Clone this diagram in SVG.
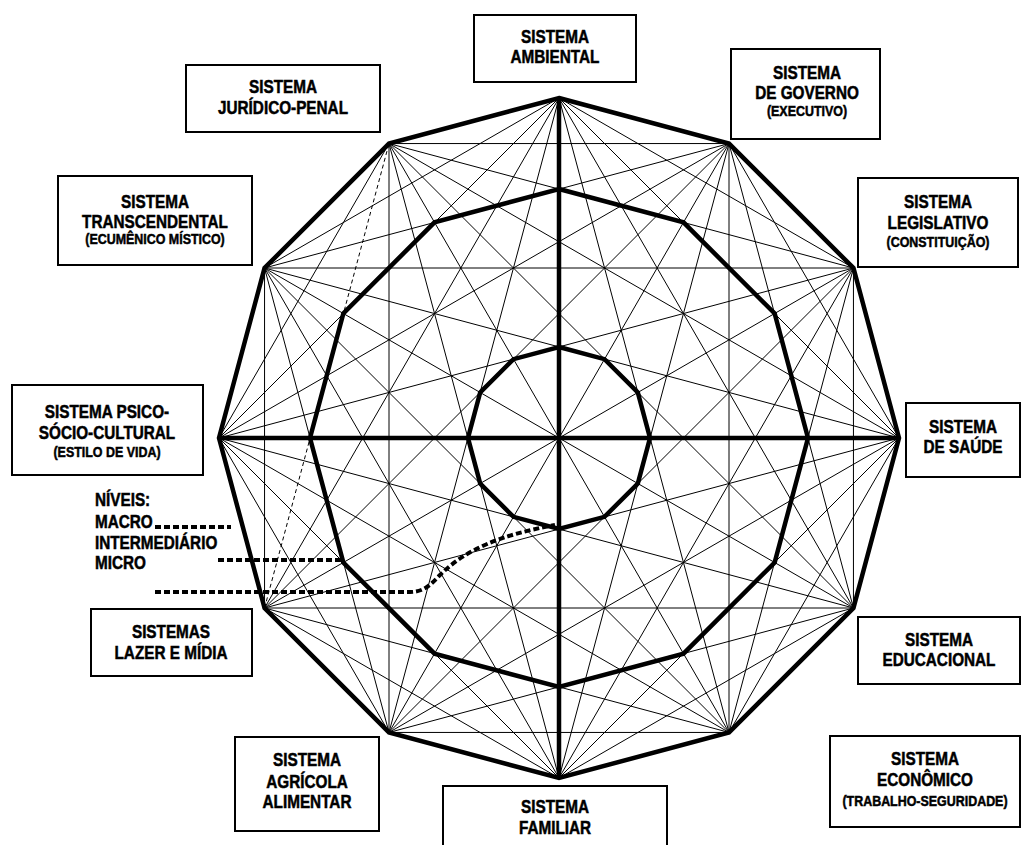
<svg xmlns="http://www.w3.org/2000/svg" width="1021" height="845" viewBox="0 0 1021 845">
<style>
.t{font-family:'Liberation Sans',Arial,sans-serif;font-weight:bold;font-size:18px;text-anchor:middle;fill:#000;stroke:#000;stroke-width:0.5}
.s{font-size:15px}
.l{text-anchor:start}
.box{fill:#fff;stroke:#000;stroke-width:2}
.thin{stroke:#000;stroke-width:1;fill:none}
.thick{stroke:#000;stroke-width:4.5;fill:none;stroke-linejoin:miter}
.dot{stroke:#000;stroke-width:4;stroke-dasharray:6 3;fill:none}
</style>
<rect width="1021" height="845" fill="#fff"/>
<g id="connectors">
<path class="thin" d="M559,98L853.45,268M729,143.55L899,438M853.45,268L853.45,608M899,438L729,732.45M853.45,608L559,778M729,732.45L389,732.45M559,778L264.55,608M389,732.45L219,438M264.55,608L264.55,268M219,438L389,143.55M264.55,268L559,98M389,143.55L729,143.55
M559,98L899,438M729,143.55L853.45,608M853.45,268L729,732.45M899,438L559,778M853.45,608L389,732.45M729,732.45L264.55,608M559,778L219,438M389,732.45L264.55,268M219,438L559,98M264.55,268L729,143.55M389,143.55L853.45,268
M559,98L853.45,608M729,143.55L729,732.45M853.45,268L559,778M899,438L389,732.45M853.45,608L264.55,608M729,732.45L219,438M559,778L264.55,268M389,732.45L389,143.55M264.55,608L559,98M219,438L729,143.55M264.55,268L853.45,268M389,143.55L899,438
M559,98L729,732.45M729,143.55L559,778M853.45,268L389,732.45M899,438L264.55,608M853.45,608L219,438M729,732.45L264.55,268M559,778L389,143.55M389,732.45L559,98M264.55,608L729,143.55M219,438L853.45,268M264.55,268L899,438M389,143.55L853.45,608
M729,143.55L389,732.45M853.45,268L264.55,608M853.45,608L264.55,268M729,732.45L389,143.55"/>
<path class="thin" stroke-dasharray="4 3" d="M264.55,608L389,143.55"/>
<polygon class="thick" points="559,98 729,143.55 853.45,268 899,438 853.45,608 729,732.45 559,778 389,732.45 264.55,608 219,438 264.55,268 389,143.55"/>
<polygon class="thick" points="559,189 683.5,222.36 774.64,313.5 808,438 774.64,562.5 683.5,653.64 559,687 434.5,653.64 343.36,562.5 310,438 343.36,313.5 434.5,222.36"/>
<polygon class="thick" points="559,347 604.5,359.19 637.81,392.5 650,438 637.81,483.5 604.5,516.81 559,529 513.5,516.81 480.19,483.5 468,438 480.19,392.5 513.5,359.19"/>
<path class="thick" d="M559,98L559,778M219,438L899,438"/>
<path class="dot" d="M155,527L231,527M218,560L343,560M155,592L410,592C425,592 432,583 440,575C465,550 500,535 555,525"/>
</g>
<g id="niveis">
<text class="t l" transform="translate(95,506.4) scale(0.85,1)">NÍVEIS:</text>
<text class="t l" transform="translate(95,528.4) scale(0.85,1)">MACRO</text>
<text class="t l" transform="translate(95,549.4) scale(0.85,1)">INTERMEDIÁRIO</text>
<text class="t l" transform="translate(95,569.4) scale(0.85,1)">MICRO</text>
</g>
<g id="ambiental"><rect class="box" x="474" y="15" width="162" height="67"/><text class="t" transform="translate(555,43.4) scale(0.85,1)">SISTEMA</text><text class="t" transform="translate(555,63.4) scale(0.85,1)">AMBIENTAL</text></g>
<g id="juridico"><rect class="box" x="186" y="65" width="194" height="67"/><text class="t" transform="translate(283,93.4) scale(0.85,1)">SISTEMA</text><text class="t" transform="translate(283,114.4) scale(0.85,1)">JURÍDICO-PENAL</text></g>
<g id="governo"><rect class="box" x="731" y="49" width="149" height="90"/><text class="t" transform="translate(807,79.4) scale(0.85,1)">SISTEMA</text><text class="t" transform="translate(807,99.4) scale(0.85,1)">DE GOVERNO</text><text class="t s" transform="translate(807,116.4) scale(0.83,1)">(EXECUTIVO)</text></g>
<g id="transcendental"><rect class="box" x="58" y="176" width="194" height="89"/><text class="t" transform="translate(155,208.4) scale(0.85,1)">SISTEMA</text><text class="t" transform="translate(155,228.4) scale(0.85,1)">TRANSCENDENTAL</text><text class="t s" transform="translate(155,244.4) scale(0.83,1)">(ECUMÊNICO MÍSTICO)</text></g>
<g id="legislativo"><rect class="box" x="858" y="178" width="160" height="89"/><text class="t" transform="translate(938,208.4) scale(0.85,1)">SISTEMA</text><text class="t" transform="translate(938,229.4) scale(0.85,1)">LEGISLATIVO</text><text class="t s" transform="translate(938,247.4) scale(0.83,1)">(CONSTITUIÇÃO)</text></g>
<g id="psico"><rect class="box" x="12" y="385" width="191" height="90"/><text class="t" transform="translate(107,418.4) scale(0.85,1)">SISTEMA PSICO-</text><text class="t" transform="translate(107,439.4) scale(0.85,1)">SÓCIO-CULTURAL</text><text class="t s" transform="translate(107,457.4) scale(0.83,1)">(ESTILO DE VIDA)</text></g>
<g id="saude"><rect class="box" x="906" y="403" width="114" height="74"/><text class="t" transform="translate(963,433.4) scale(0.85,1)">SISTEMA</text><text class="t" transform="translate(963,453.4) scale(0.85,1)">DE SAÚDE</text></g>
<g id="lazer"><rect class="box" x="91" y="609" width="161" height="67"/><text class="t" transform="translate(171,638.4) scale(0.85,1)">SISTEMAS</text><text class="t" transform="translate(171,659.4) scale(0.85,1)">LAZER E MÍDIA</text></g>
<g id="educacional"><rect class="box" x="858" y="617" width="162" height="67"/><text class="t" transform="translate(939,646.4) scale(0.85,1)">SISTEMA</text><text class="t" transform="translate(939,666.4) scale(0.85,1)">EDUCACIONAL</text></g>
<g id="agricola"><rect class="box" x="235" y="737" width="144" height="94"/><text class="t" transform="translate(307,766.4) scale(0.85,1)">SISTEMA</text><text class="t" transform="translate(307,788.4) scale(0.85,1)">AGRÍCOLA</text><text class="t" transform="translate(307,808.4) scale(0.85,1)">ALIMENTAR</text></g>
<g id="familiar"><rect class="box" x="443" y="786" width="224" height="80"/><text class="t" transform="translate(555,813.4) scale(0.85,1)">SISTEMA</text><text class="t" transform="translate(555,834.4) scale(0.85,1)">FAMILIAR</text></g>
<g id="economico"><rect class="box" x="830" y="736" width="190" height="91"/><text class="t" transform="translate(925,765.4) scale(0.85,1)">SISTEMA</text><text class="t" transform="translate(925,786.4) scale(0.85,1)">ECONÔMICO</text><text class="t s" transform="translate(925,806.4) scale(0.83,1)">(TRABALHO-SEGURIDADE)</text></g>
</svg>
